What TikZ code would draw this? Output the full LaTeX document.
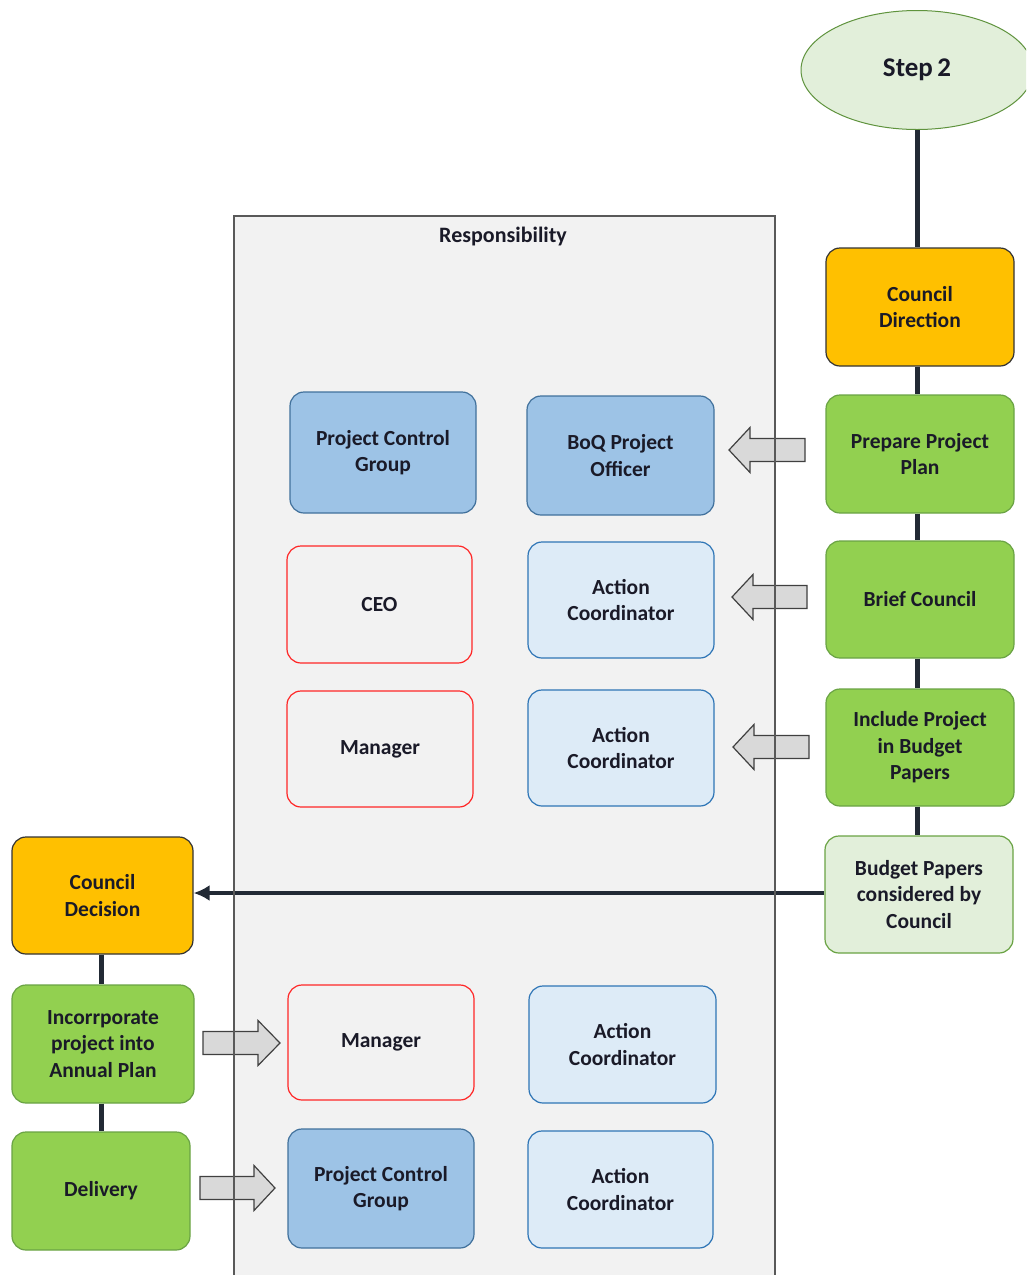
\documentclass[tikz,border=0pt]{standalone}
\usepackage{fontspec}
\setmainfont{Carlito}
\usetikzlibrary{shapes.geometric,arrows.meta}
\definecolor{txt}{HTML}{1A1A28}
\definecolor{orangef}{HTML}{FFC000}
\definecolor{greenf}{HTML}{92D050}
\definecolor{greenb}{HTML}{6AA344}
\definecolor{lgreenf}{HTML}{E2EFDA}
\definecolor{bluef}{HTML}{9DC3E6}
\definecolor{blueb}{HTML}{41719C}
\definecolor{lbluef}{HTML}{DDEBF7}
\definecolor{lblueb}{HTML}{2E75B6}
\definecolor{bgf}{HTML}{F2F2F2}
\definecolor{conncol}{HTML}{222A35}
\newcommand\myfat[4]{\filldraw[fat] (#1,#4-11.5) -- (#2,#4-11.5) -- (#2,#4-22.5) -- (#3,#4) -- (#2,#4+22.5) -- (#2,#4+11.5) -- (#1,#4+11.5) -- cycle;}
\tikzset{
  base/.style={rounded corners=14pt, line width=1.2pt, align=center, text=txt,
    font=\bfseries\fontsize{21.5}{26.5}\selectfont, inner sep=0pt},
  orangebox/.style={base, fill=orangef, draw=black!80},
  greenbox/.style={base, fill=greenf, draw=greenb},
  lgreenbox/.style={base, fill=lgreenf, draw=greenb},
  bluebox/.style={base, fill=bluef, draw=blueb},
  lbluebox/.style={base, fill=lbluef, draw=lblueb},
  redbox/.style={base, fill=bgf, draw=red!85},
  sz/.style 2 args={minimum width=#1pt, minimum height=#2pt},
  conn/.style={draw=conncol, line width=5pt},
  fat/.style={fill=black!15, draw=black!75, line width=1.2pt, line join=miter},
}
\begin{document}
\begin{tikzpicture}[x=1pt,y=-1pt]
\clip (0,0) rectangle (1026,1275);
\fill[white] (0,0) rectangle (1026,1275);
% container
\fill[bgf] (234,216) rectangle (775,1290);
\node[font=\bfseries\fontsize{22}{26}\selectfont, text=txt] (resp) at (503,237) {Responsibility};

% step ellipse
\node[ellipse, fill=lgreenf, draw=greenb!90!black, line width=1pt, minimum width=232pt, minimum height=119pt,
  font=\bfseries\fontsize{27}{30}\selectfont, text=txt, inner sep=0pt] (step) at (917,70) {Step\,2};

% right chain
\node[orangebox, sz={188}{118}] (cdir) at (920,307) {Council\\Direction};
\node[greenbox, sz={188}{118}] (ppp) at (920,454) {Prepare Project\\Plan};
\node[greenbox, sz={188}{117}] (brief) at (920,599.5) {Brief Council};
\node[greenbox, sz={188}{117}] (incl) at (920,747.5) {Include Project\\in Budget\\Papers};
\node[lgreenbox, sz={188}{117}] (bpc) at (919,894.5) {Budget Papers\\considered by\\Council};

% left chain
\node[orangebox, sz={181}{117}] (cdec) at (102.5,895.5) {Council\\Decision};
\node[greenbox, sz={182}{118}] (inc) at (103,1044) {Incorrporate\\project into\\Annual Plan};
\node[greenbox, sz={178}{118}] (del) at (101,1191) {Delivery};

% role boxes
\node[bluebox, sz={186}{121}] (pcg1) at (383,452.5) {Project Control\\Group};
\node[bluebox, sz={187}{119}] (boq) at (620.5,455.5) {BoQ Project\\Officer};
\node[redbox, sz={185}{117}] (ceo) at (379.5,604.5) {CEO};
\node[lbluebox, sz={186}{116}] (ac1) at (621,600) {Action\\Coordinator};
\node[redbox, sz={186}{116}] (man1) at (380,749) {Manager};
\node[lbluebox, sz={186}{116}] (ac2) at (621,748) {Action\\Coordinator};
\node[redbox, sz={186}{115}] (man2) at (381,1042.5) {Manager};
\node[lbluebox, sz={187}{117}] (ac3) at (622.5,1044.5) {Action\\Coordinator};
\node[bluebox, sz={186}{119}] (pcg2) at (381,1188.5) {Project Control\\Group};
\node[lbluebox, sz={185}{117}] (ac4) at (620.5,1189.5) {Action\\Coordinator};

% connectors
\draw[conn] (step.south) -- (step.south |- cdir.north);
\draw[conn] (cdir.south -| step.south) -- (step.south |- ppp.north);
\draw[conn] (ppp.south -| step.south) -- (step.south |- brief.north);
\draw[conn] (brief.south -| step.south) -- (step.south |- incl.north);
\draw[conn] (incl.south -| step.south) -- (step.south |- bpc.north);
\draw[draw=conncol, line width=4pt, -{Latex[length=16pt,width=16pt]}] (bpc.west |- 0,893) -- (cdec.east |- 0,893);
\draw[conn] (cdec.south -| 101,0) -- (101,0 |- inc.north);
\draw[conn] (inc.south -| 101,0) -- (101,0 |- del.north);

% fat arrows
\myfat{805}{750}{729}{450}
\myfat{807}{753}{732}{597}
\myfat{809}{754}{733}{747}
\myfat{203}{258}{280}{1043}
\myfat{200}{254}{275}{1188}

% container border on top
\draw[black!65, line width=1.3pt] (234,1290) -- (234,216) -- (775,216) -- (775,1290);
\end{tikzpicture}
\end{document}
